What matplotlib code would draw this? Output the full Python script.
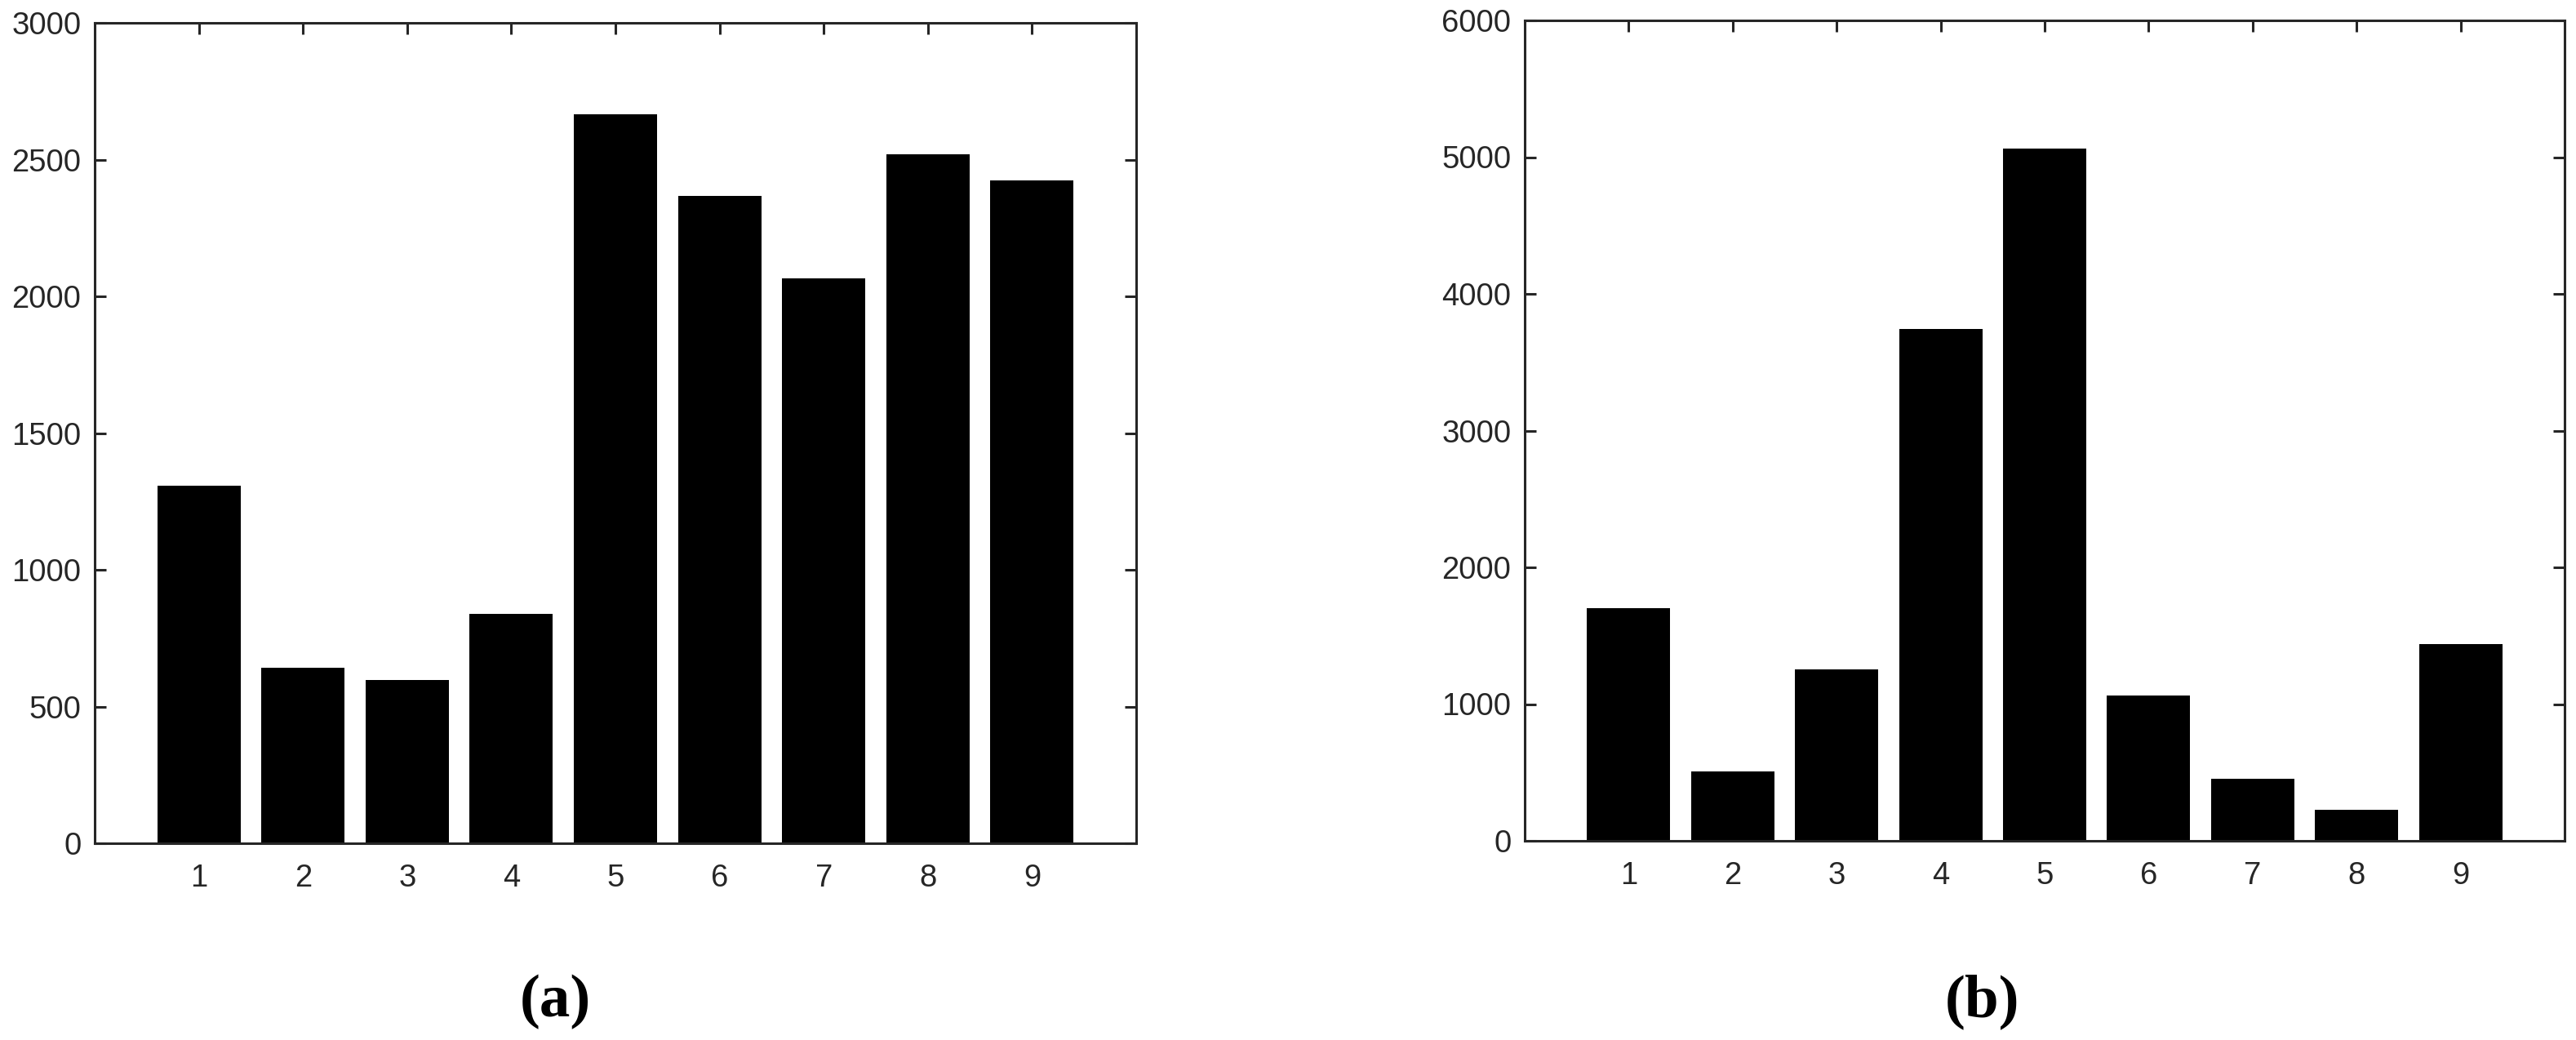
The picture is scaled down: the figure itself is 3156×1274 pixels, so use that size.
import matplotlib
matplotlib.use("Agg")
import matplotlib.pyplot as plt
import numpy as np

categories = [1, 2, 3, 4, 5, 6, 7, 8, 9]
values_a = [1306, 642, 596, 840, 2665, 2368, 2067, 2518, 2425]
values_b = [1700, 505, 1256, 3743, 5063, 1062, 452, 226, 1437]
yticks_a = [0, 500, 1000, 1500, 2000, 2500, 3000]
yticks_b = [0, 1000, 2000, 3000, 4000, 5000, 6000]
panel_labels = ["(a)", "(b)"]

W, H = 3156, 1274
dpi = 100
fig = plt.figure(figsize=(W / dpi, H / dpi), dpi=dpi)
fig.patch.set_facecolor("white")

edge = "#262626"

def px_rect(x0, y0, x1, y1):
    return [x0 / W, 1 - y1 / H, (x1 - x0) / W, (y1 - y0) / H]

axA = fig.add_axes(px_rect(116, 28, 1392, 1033))
axB = fig.add_axes(px_rect(1868, 25, 3142, 1030))

for ax, vals, yt in [(axA, values_a, yticks_a), (axB, values_b, yticks_b)]:
    ax.bar(categories, vals, width=0.8, color="black", edgecolor="none", zorder=2)
    ax.set_xlim(0, 10)
    ax.set_ylim(yt[0], yt[-1])
    ax.set_xticks(categories)
    ax.set_xticklabels([str(c) for c in categories])
    ax.set_yticks(yt)
    ax.set_yticklabels([str(v) for v in yt])
    for s in ax.spines.values():
        s.set_color(edge)
        s.set_linewidth(2.2)
        s.set_zorder(3)
    ax.tick_params(axis="both", which="major", direction="in", length=10, width=2.2,
                   color=edge, labelcolor=edge, labelsize=27.5, top=True, right=True)
    ax.tick_params(axis="x", pad=18)
    ax.tick_params(axis="y", pad=12)
    for lab in ax.get_xticklabels() + ax.get_yticklabels():
        lab.set_fontfamily("Liberation Sans")

fig.text(680 / W, 1 - 1227 / H, panel_labels[0], ha="center", va="center",
         fontsize=54, fontweight="bold", family="Liberation Serif", color="black")
fig.text(2428 / W, 1 - 1227 / H, panel_labels[1], ha="center", va="center",
         fontsize=54, fontweight="bold", family="Liberation Serif", color="black")

fig.savefig("out.png", dpi=dpi, facecolor="white")
